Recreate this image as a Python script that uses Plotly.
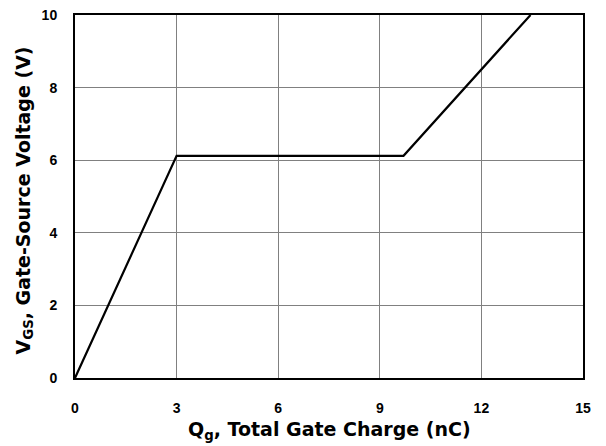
import plotly.graph_objects as go

# Data
qg_nc = [0, 3.0, 9.7, 13.45]
vgs_v = [0, 6.12, 6.12, 10.0]

x_ticks = [0, 3, 6, 9, 12, 15]
y_ticks = [0, 2, 4, 6, 8, 10]

x_title = "<b>Q<sub>g</sub>, Total Gate Charge (nC)</b>"
y_title = "<b>V<sub>GS</sub>, Gate-Source Voltage (V)</b>"

tick_family = "Liberation Sans, Arial, sans-serif"
title_family = "DejaVu Sans, Liberation Sans, sans-serif"

fig = go.Figure()
fig.add_trace(go.Scatter(
    x=qg_nc, y=vgs_v, mode="lines",
    line=dict(color="black", width=2.2),
    showlegend=False, hoverinfo="skip",
))

axis_common = dict(
    showgrid=True, gridcolor="#808080", gridwidth=1,
    showline=True, linecolor="black", linewidth=2, mirror=True,
    zeroline=False, ticks="", automargin=False,
    tickfont=dict(family=tick_family, size=14, color="black", weight="bold"),
)

fig.update_layout(
    width=606, height=446,
    paper_bgcolor="white", plot_bgcolor="white",
    margin=dict(l=75, r=23, t=15, b=68),
    font=dict(family=tick_family, color="black"),
    xaxis=dict(
        range=[0, 15], tickvals=x_ticks, ticktext=[str(v) for v in x_ticks],
        ticklabelstandoff=16,
        **axis_common,
    ),
    yaxis=dict(
        range=[0, 10], tickvals=y_ticks, ticktext=[str(v) for v in y_ticks],
        ticklabelstandoff=13,
        **axis_common,
    ),
    annotations=[
        dict(text=x_title, xref="paper", yref="paper", x=0.5, y=0,
             xanchor="center", yanchor="middle", yshift=-52, showarrow=False,
             font=dict(family=title_family, size=19, color="black")),
        dict(text=y_title, xref="paper", yref="paper", x=0, y=0.5,
             xanchor="center", yanchor="middle", xshift=-51, yshift=-4,
             textangle=-90, showarrow=False,
             font=dict(family=title_family, size=19, color="black")),
    ],
)

fig.write_html(
    "out.html",
    config={"displayModeBar": False},
    post_script="document.body.style.margin='0';document.body.style.padding='0';",
)
